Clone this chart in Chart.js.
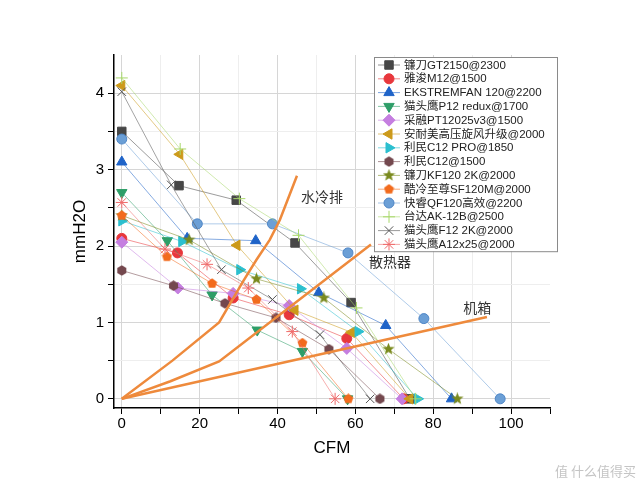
<!DOCTYPE html>
<html>
<head>
<meta charset="utf-8">
<script src="https://cdn.jsdelivr.net/npm/chart.js@4.4.1/dist/chart.umd.min.js"></script>
<style>
    html, body { margin: 0; padding: 0; background: #fff; }
    #wrap { width: 640px; height: 489px; }
</style>
</head>
<body>
<div id="wrap"><canvas id="fanChart"></canvas></div>
<script>
// fan curves, [CFM, mmH2O]
const gt2150   = [[0, 3.5], [14.7, 2.79], [29.4, 2.6], [44.5, 2.04], [58.9, 1.26], [74, 0]];
const m12      = [[0, 2.1], [14.3, 1.91], [28.6, 1.32], [43, 1.1], [57.8, 0.79], [72.4, 0]];
const ekstrem  = [[0, 3.1], [16.8, 2.1], [34.4, 2.07], [50.6, 1.39], [67.8, 0.96], [84.7, 0]];
const p12redux = [[0, 2.7], [11.7, 2.07], [23.2, 1.36], [34.8, 0.9], [46.4, 0.62], [58, 0]];
const pt12025  = [[0, 2.05], [14.4, 1.45], [28.6, 1.38], [43, 1.22], [57.8, 0.66], [72, 0]];
const anaimei  = [[0, 4.1], [14.9, 3.2], [29.6, 2.01], [44.5, 1.16], [59, 0.87], [74, 0]];
const c12pro   = [[0, 2.33], [15.4, 2.06], [30.3, 1.69], [45.9, 1.44], [60.7, 0.88], [76, 0]];
const c12      = [[0, 1.68], [13.3, 1.48], [26.5, 1.25], [39.6, 1.06], [53.2, 0.65], [66.3, 0]];
const kf120    = [[0, 2.4], [17.3, 2.08], [34.6, 1.57], [51.9, 1.32], [68.5, 0.65], [86.2, 0]];
const sf120m   = [[0, 2.4], [11.6, 1.86], [23.2, 1.51], [34.6, 1.3], [46.4, 0.73], [58.2, 0]];
const qf120    = [[0, 3.4], [19.4, 2.29], [38.7, 2.29], [58.1, 1.91], [77.6, 1.05], [97.2, 0]];
const ak12b    = [[0, 4.2], [15, 3.27], [30.2, 2.62], [45.4, 2.14], [60.3, 1.19], [75.5, 0]];
const f12      = [[0, 4.02], [12.7, 2.8], [25.6, 1.69], [38.7, 1.3], [50.9, 0.84], [63.8, 0]];
const a12x25   = [[0, 2.57], [11.1, 1.96], [21.9, 1.76], [32.5, 1.45], [43.8, 0.88], [54.8, 0]];

const fanNames = ['镰刀GT2150@2300', '雅浚M12@1500', 'EKSTREMFAN 120@2200', '猫头鹰P12 redux@1700',
    '采融PT12025v3@1500', '安耐美高压旋风升级@2000', '利民C12 PRO@1850', '利民C12@1500',
    '镰刀KF120 2K@2000', '酷冷至尊SF120M@2000', '快睿QF120高效@2200', '台达AK-12B@2500',
    '猫头鹰F12 2K@2000', '猫头鹰A12x25@2000'];
const fanData = [gt2150, m12, ekstrem, p12redux, pt12025, anaimei, c12pro, c12, kf120, sf120m, qf120, ak12b, f12, a12x25];

// system impedance curves
const waterCurve = [[0, 0], [13, 0.5], [25, 1.0], [31.2, 1.54], [34.6, 1.82], [38, 2.08], [40.6, 2.34], [45, 2.92]];
const radiatorCurve = [[0, 0], [12.5, 0.23], [25, 0.49], [64, 2.02]];
const caseCurve = [[0, 0], [93.8, 1.07]];
const curveNames = ['水冷排', '散热器', '机箱'];
const curveLabelPos = [[51.4, 2.64], [68.9, 1.79], [91.3, 1.19]];

const X_TICKS = [0, 10, 20, 30, 40, 50, 60, 70, 80, 90, 100, 110];
const Y_TICKS = [0, 0.5, 1, 1.5, 2, 2.5, 3, 3.5, 4];

const COLORS = ['#474747', '#e8373c', '#1e63c8', '#2e9e68', '#c57ee0', '#cc9a1a', '#2bbfcf',
    '#74484e', '#7a8a1e', '#f26b1d', '#6b9fd6', '#a8d86a', '#555555', '#ef6a6a'];
const CURVE_COLOR = '#ee8a3c';

function makeMarker(kind, fill, size) {
    const c = document.createElement('canvas');
    c.width = c.height = size;
    const g = c.getContext('2d');
    const r = size / 2;
    g.translate(r, r);
    g.beginPath();
    const n = kind === 'star' ? 10 : (kind === 'pentagon' ? 5 : 6);
    for (let i = 0; i < n; i++) {
        const a = -Math.PI / 2 + i * 2 * Math.PI / n;
        const rr = kind === 'star' ? (i % 2 ? r * 0.42 : r) : r * 0.95;
        g.lineTo(rr * Math.cos(a), rr * Math.sin(a));
    }
    g.closePath();
    g.fillStyle = fill;
    g.fill();
    return c;
}

// marker style per fan: [pointStyle, radius, rotation]
const MARKERS = [
    ['rect', 6, 0], ['circle', 5, 0], ['triangle', 6, 0], ['triangle', 6, 180],
    ['rectRot', 6, 0], ['triangle', 6, 270], ['triangle', 6, 90],
    [makeMarker('hexagon', COLORS[7], 11), 5, 0], [makeMarker('star', COLORS[8], 13), 5, 0],
    [makeMarker('pentagon', COLORS[9], 11), 5, 0], ['circle', 5, 0],
    ['cross', 6, 0], ['crossRot', 6, 0], ['star', 6, 0]
];

function alpha(hex, a) {
    const n = parseInt(hex.slice(1), 16);
    return `rgba(${n >> 16},${(n >> 8) & 255},${n & 255},${a})`;
}

const toXY = (arr) => arr.map(p => ({ x: p[0], y: p[1] }));

const datasets = fanData.map((d, i) => ({
    label: fanNames[i],
    data: toXY(d),
    showLine: true,
    borderColor: alpha(COLORS[i], 0.6),
    borderWidth: 0.9,
    pointStyle: MARKERS[i][0],
    pointRadius: MARKERS[i][1],
    pointRotation: MARKERS[i][2],
    pointBackgroundColor: COLORS[i],
    pointBorderColor: i === 10 ? '#4f86c6' : COLORS[i],
    pointBorderWidth: 1,
    order: 40 - i
}));

[waterCurve, radiatorCurve, caseCurve].forEach((c, i) => {
    datasets.push({
        label: curveNames[i],
        data: toXY(c),
        showLine: true,
        borderColor: CURVE_COLOR,
        borderWidth: 2.5,
        pointRadius: 0,
        order: 0,
        isCurve: true
    });
});

const legendAndLabels = {
    id: 'legendAndLabels',
    afterDatasetsDraw(chart) {
        const ctx = chart.ctx;
        const xs = chart.scales.x, ys = chart.scales.y;
        ctx.save();
        // curve labels
        ctx.font = '14px "Noto Sans CJK SC"';
        ctx.fillStyle = '#333';
        ctx.textAlign = 'center';
        ctx.textBaseline = 'middle';
        curveNames.forEach((t, i) => {
            ctx.fillText(t, xs.getPixelForValue(curveLabelPos[i][0]), ys.getPixelForValue(curveLabelPos[i][1]));
        });

        // legend box
        const bx = 374, by = 57, bw = 183, rowH = 13.8;
        const fans = chart.data.datasets.filter(d => !d.isCurve);
        ctx.fillStyle = '#fff';
        ctx.fillRect(bx, by, bw, rowH * fans.length + 1);
        ctx.strokeStyle = '#8a8a8a';
        ctx.lineWidth = 1;
        ctx.strokeRect(bx + 0.5, by + 0.5, bw, rowH * fans.length + 1);
        ctx.font = '11.5px "Liberation Sans", "Noto Sans CJK SC"';
        ctx.textAlign = 'left';
        fans.forEach((d, i) => {
            const y = by + 8 + i * rowH;
            ctx.strokeStyle = d.borderColor;
            ctx.lineWidth = 1;
            ctx.beginPath();
            ctx.moveTo(378, y);
            ctx.lineTo(400, y);
            ctx.stroke();
            if (d.pointStyle instanceof HTMLCanvasElement) {
                ctx.drawImage(d.pointStyle, 389 - d.pointStyle.width / 2, y - d.pointStyle.height / 2);
            } else {
                ctx.fillStyle = d.pointBackgroundColor;
                ctx.strokeStyle = d.pointBorderColor;
                ctx.lineWidth = 1;
                Chart.helpers.drawPoint(ctx, {
                    pointStyle: d.pointStyle, radius: d.pointRadius,
                    rotation: d.pointRotation, borderWidth: 1
                }, 389, y);
            }
            ctx.fillStyle = '#222';
            ctx.fillText(d.label, 404, y + 0.5);
        });

        // watermark
        ctx.font = '13px "Noto Sans CJK SC"';
        ctx.fillStyle = '#c4c4c4';
        ctx.textAlign = 'right';
        ctx.fillText('值 什么值得买', 636, 471);
        ctx.restore();
    }
};

new Chart('fanChart', {
    type: 'scatter',
    data: { datasets },
    options: {
        responsive: true,
        maintainAspectRatio: false,
        animation: false,
        layout: { padding: { left: 70, right: 90, top: 55, bottom: 30 } },
        plugins: {
            legend: { display: false },
            tooltip: { enabled: false }
        },
        scales: {
            x: {
                type: 'linear',
                min: -2,
                max: 110,
                afterBuildTicks: (s) => { s.ticks = X_TICKS.map(v => ({ value: v })); },
                afterFit: (s) => { s.height = 51; },
                ticks: {
                    autoSkip: false,
                    maxRotation: 0,
                    padding: 1,
                    color: '#000',
                    font: { size: 15, family: 'Liberation Sans' },
                    callback: (v) => (v % 20 === 0 && v <= 100 ? v : '')
                },
                grid: {
                    color: (c) => {
                        const v = c.tick ? c.tick.value : 0;
                        if (v > 100) return 'rgba(0,0,0,0)';
                        return v % 20 === 0 ? '#d6d6d6' : '#eeeeee';
                    },
                    tickColor: '#000',
                    tickLength: 6,
                    lineWidth: 1
                },
                border: { color: '#000', width: 1.5 },
                title: {
                    display: true,
                    text: 'CFM',
                    color: '#000',
                    padding: 0,
                    font: { size: 17, family: 'Liberation Sans' }
                }
            },
            y: {
                type: 'linear',
                min: -0.12,
                max: 4.5,
                afterBuildTicks: (s) => { s.ticks = Y_TICKS.map(v => ({ value: v })); },
                afterFit: (s) => { s.width = 44; },
                ticks: {
                    autoSkip: false,
                    padding: 4,
                    color: '#000',
                    font: { size: 15, family: 'Liberation Sans' },
                    callback: (v) => (Number.isInteger(v) ? v : '')
                },
                grid: {
                    color: (c) => {
                        const v = c.tick ? c.tick.value : 0;
                        return Number.isInteger(v) ? '#d6d6d6' : '#eeeeee';
                    },
                    tickColor: '#000',
                    tickLength: 6,
                    lineWidth: 1
                },
                border: { color: '#000', width: 1.5 },
                title: {
                    display: true,
                    text: 'mmH2O',
                    color: '#000',
                    padding: 0,
                    font: { size: 17, family: 'Liberation Sans' }
                }
            }
        }
    },
    plugins: [legendAndLabels]
});
</script>
</body>
</html>
